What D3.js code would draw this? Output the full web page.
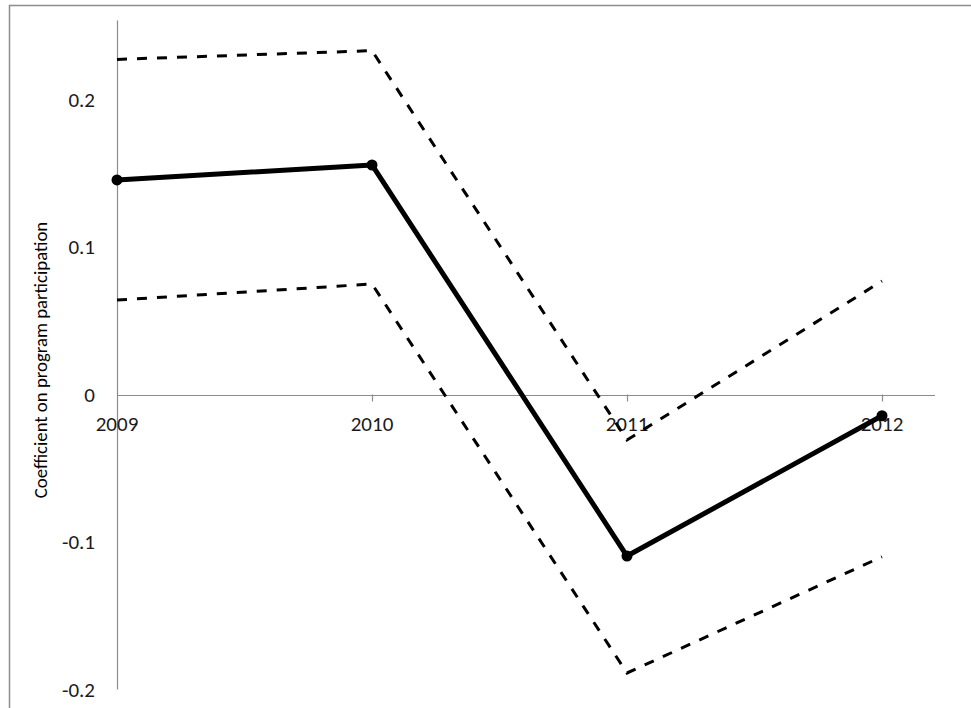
<!DOCTYPE html>
<html>
<head>
<meta charset="utf-8">
<script src="https://cdn.jsdelivr.net/npm/d3@7/dist/d3.min.js"></script>
<style>
  html, body { margin: 0; padding: 0; background: #fff; }
  svg { display: block; }
</style>
</head>
<body>
<svg id="chart" width="971" height="708"></svg>
<script>
// Estimated coefficient by year with upper / lower confidence bounds
const years = ["2009", "2010", "2011", "2012"];
const coefficient = [0.1455, 0.1556, -0.1095, -0.0144];
const upperBound = [0.2272, 0.2331, -0.0308, 0.0769];
const lowerBound = [0.0640, 0.0749, -0.1888, -0.1100];
const yTicks = [-0.2, -0.1, 0, 0.1, 0.2];
const yTickLabels = ["-0.2", "-0.1", "0", "0.1", "0.2"];
const yTitle = "Coefficient on program participation";

const svg = d3.select("#chart");
const font = "Carlito, 'Open Sans', 'Liberation Sans', sans-serif";

// outer frame
svg.append("rect")
  .attr("x", 9.5).attr("y", 5.5)
  .attr("width", 990).attr("height", 720)
  .attr("fill", "none").attr("stroke", "#8c8c8c").attr("stroke-width", 1.5);

const x = d3.scalePoint().domain(years).range([117, 882]);
const y = d3.scaleLinear().domain([-0.2, 0.2]).range([689.5, 99.5]);

// y axis line
svg.append("line")
  .attr("x1", 117.5).attr("x2", 117.5)
  .attr("y1", y(0.2535)).attr("y2", y(-0.2))
  .attr("stroke", "#8c8c8c").attr("stroke-width", 1.2);

// x axis along zero
svg.append("line")
  .attr("x1", 117).attr("x2", 935)
  .attr("y1", Math.round(y(0)) + 0.5).attr("y2", Math.round(y(0)) + 0.5)
  .attr("stroke", "#8c8c8c").attr("stroke-width", 1.2);

// category tick marks
svg.selectAll(".xtick").data(years.slice(1)).enter().append("line")
  .attr("x1", d => x(d) + 0.5).attr("x2", d => x(d) + 0.5)
  .attr("y1", y(0)).attr("y2", y(0) + 7)
  .attr("stroke", "#8c8c8c").attr("stroke-width", 1.2);

// category labels
svg.selectAll(".xlab").data(years).enter().append("text")
  .attr("x", d => x(d)).attr("y", y(0) + 36)
  .attr("text-anchor", "middle")
  .attr("font-family", font).attr("font-size", 21).attr("fill", "#1a1a1a")
  .text(d => d);

// value labels
svg.selectAll(".ylab").data(yTicks).enter().append("text")
  .attr("x", 95).attr("y", d => y(d) + 7)
  .attr("text-anchor", "end")
  .attr("font-family", font).attr("font-size", 21).attr("fill", "#1a1a1a")
  .text((d, i) => yTickLabels[i]);

// axis title
svg.append("text")
  .attr("transform", "translate(47,360) rotate(-90)")
  .attr("text-anchor", "middle")
  .attr("font-family", font).attr("font-size", 18.8).attr("font-weight", 500).attr("fill", "#000")
  .text(yTitle);

const line = d3.line().x((d, i) => x(years[i])).y(d => y(d));

// confidence bounds
[upperBound, lowerBound].forEach(s => {
  svg.append("path")
    .attr("d", line(s))
    .attr("fill", "none").attr("stroke", "#000")
    .attr("stroke-width", 3).attr("stroke-dasharray", "10,10")
    .attr("stroke-linejoin", "miter");
});

// point estimates
svg.append("path")
  .attr("d", line(coefficient))
  .attr("fill", "none").attr("stroke", "#000")
  .attr("stroke-width", 5).attr("stroke-linejoin", "round");

svg.selectAll(".dot").data(coefficient).enter().append("circle")
  .attr("cx", (d, i) => x(years[i])).attr("cy", d => y(d))
  .attr("r", 5.5).attr("fill", "#000");
</script>
</body>
</html>
